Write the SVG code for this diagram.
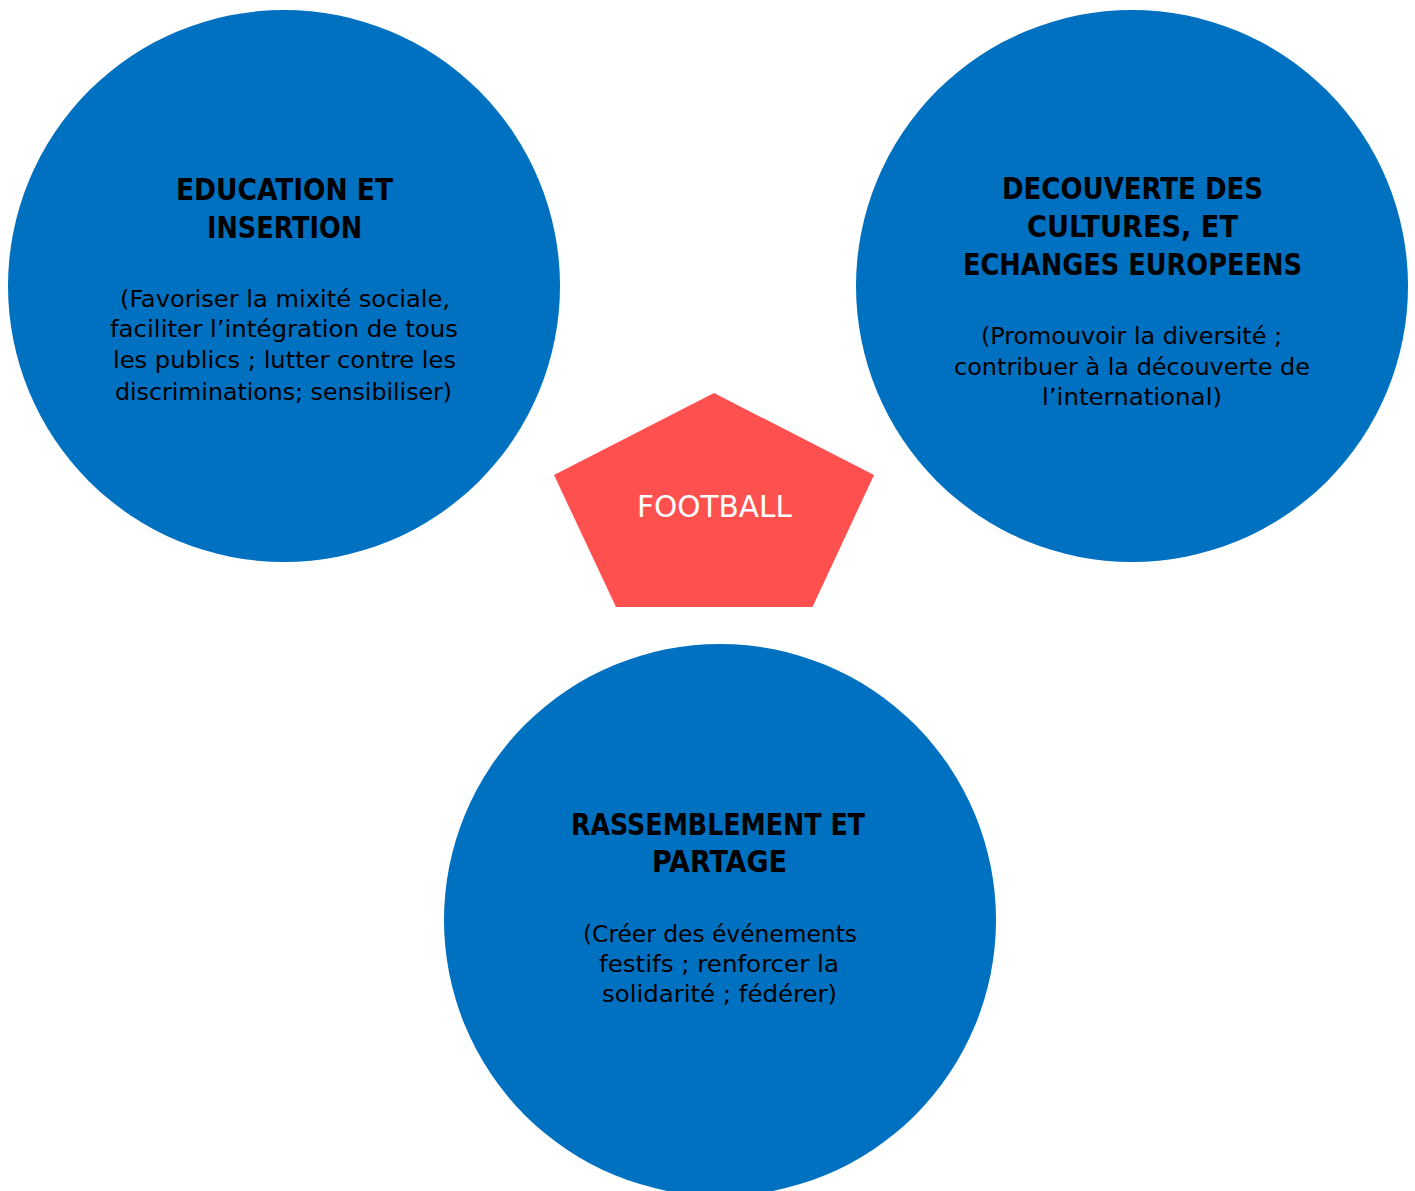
<svg xmlns="http://www.w3.org/2000/svg" width="1415" height="1191" viewBox="0 0 1415 1191">
<style>
.c{fill:#0070C0}
.t{font-family:"DejaVu Sans",sans-serif;font-stretch:condensed;font-weight:bold;font-size:29.5px;fill:#000;text-anchor:middle}
.b{font-family:"DejaVu Sans",sans-serif;font-stretch:condensed;font-size:23px;fill:#000;text-anchor:middle}
.f{font-family:"DejaVu Sans",sans-serif;font-stretch:condensed;font-size:29.5px;fill:#fff;text-anchor:middle}
</style>
<rect width="1415" height="1191" fill="#fff"/>
<g id="connectors"></g>
<g id="node-education">
<circle class="c" cx="284" cy="286" r="276"/>
<text class="t" x="284.5" y="200" textLength="217" lengthAdjust="spacingAndGlyphs">EDUCATION ET</text>
<text class="t" x="284.5" y="238" textLength="155" lengthAdjust="spacingAndGlyphs">INSERTION</text>
<text class="b" x="285" y="307" textLength="330" lengthAdjust="spacingAndGlyphs">(Favoriser la mixité sociale,</text>
<text class="b" x="284" y="337" textLength="348" lengthAdjust="spacingAndGlyphs">faciliter l’intégration de tous</text>
<text class="b" x="284.5" y="368" textLength="343" lengthAdjust="spacingAndGlyphs">les publics ; lutter contre les</text>
<text class="b" x="283.5" y="400" textLength="337" lengthAdjust="spacingAndGlyphs">discriminations; sensibiliser)</text>
</g>
<g id="node-decouverte">
<circle class="c" cx="1132" cy="286" r="276"/>
<text class="t" x="1132.5" y="199" textLength="261" lengthAdjust="spacingAndGlyphs">DECOUVERTE DES</text>
<text class="t" x="1132.5" y="237" textLength="211" lengthAdjust="spacingAndGlyphs">CULTURES, ET</text>
<text class="t" x="1132.5" y="275" textLength="339" lengthAdjust="spacingAndGlyphs">ECHANGES EUROPEENS</text>
<text class="b" x="1131.5" y="344" textLength="301" lengthAdjust="spacingAndGlyphs">(Promouvoir la diversité ;</text>
<text class="b" x="1132" y="375" textLength="356" lengthAdjust="spacingAndGlyphs">contribuer à la découverte de</text>
<text class="b" x="1132" y="405" textLength="180" lengthAdjust="spacingAndGlyphs">l’international)</text>
</g>
<g id="node-rassemblement">
<circle class="c" cx="720" cy="920" r="276"/>
<text class="t" x="718" y="835" textLength="294" lengthAdjust="spacingAndGlyphs">RASSEMBLEMENT ET</text>
<text class="t" x="719.5" y="872" textLength="135" lengthAdjust="spacingAndGlyphs">PARTAGE</text>
<text class="b" x="720" y="942" textLength="274" lengthAdjust="spacingAndGlyphs">(Créer des événements</text>
<text class="b" x="719" y="972" textLength="240" lengthAdjust="spacingAndGlyphs">festifs ; renforcer la</text>
<text class="b" x="719.5" y="1002" textLength="235" lengthAdjust="spacingAndGlyphs">solidarité ; fédérer)</text>
</g>
<g id="node-football">
<polygon fill="#FF5050" points="714,393 874,475 812.5,607 616,607 554,475"/>
<text class="f" x="714.5" y="517" textLength="155" lengthAdjust="spacingAndGlyphs">FOOTBALL</text>
</g>
</svg>
